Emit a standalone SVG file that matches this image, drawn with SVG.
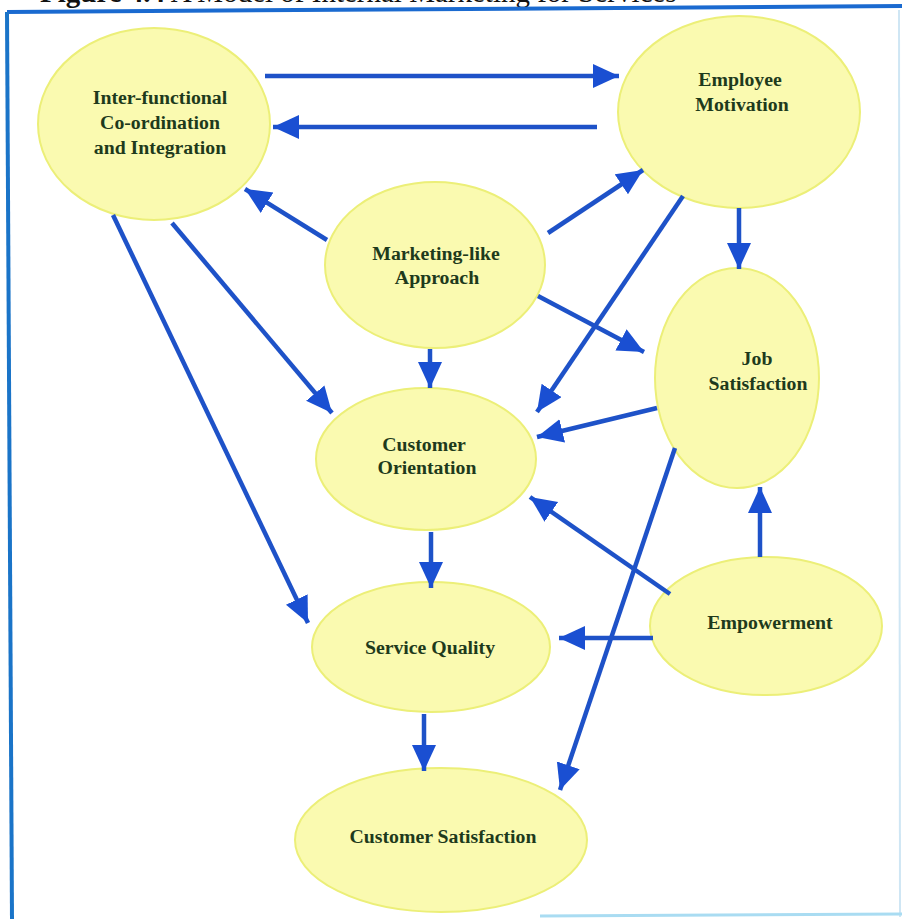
<svg xmlns="http://www.w3.org/2000/svg" width="902" height="919" viewBox="0 0 902 919">
<defs>
<marker id="ah" markerUnits="userSpaceOnUse" markerWidth="28" markerHeight="26" refX="26" refY="12" orient="auto">
<path d="M0,0 L26,12 L0,24 Z" fill="#1a4fd2"/>
</marker>
<style>
.node ellipse{fill:#fafab0;stroke:#ecef78;stroke-width:2}
.node text{font-family:"Liberation Serif","Times New Roman",serif;font-weight:bold;font-size:19.8px;fill:#1e3a1c;text-anchor:middle}
#connectors line{stroke:#1e52c8;stroke-width:4.5;marker-end:url(#ah)}
.title{font-family:"Liberation Serif","Times New Roman",serif;font-size:29px;fill:#111}
</style>
</defs>
<rect width="902" height="919" fill="#ffffff"/>
<text class="title" x="40" y="2"><tspan font-weight="bold">Figure 4.4</tspan> A Model of Internal Marketing for Services</text>
<g id="frame" fill="none">
<path d="M7,12 L902,6" stroke="#1a6ad0" stroke-width="4"/>
<path d="M7,12 L12,919" stroke="#1a74c8" stroke-width="4"/>
<path d="M899,10 L900,917" stroke="#cfe6f4" stroke-width="2"/>
<path d="M540,916 L902,914" stroke="#a9dcf2" stroke-width="3"/>
</g>
<g id="inter-functional" class="node">
<ellipse cx="154" cy="124" rx="116" ry="96"/>
<text x="160" y="104">Inter-functional</text>
<text x="160" y="129">Co-ordination</text>
<text x="160" y="154">and Integration</text>
</g>
<g id="employee-motivation" class="node">
<ellipse cx="739" cy="112" rx="121" ry="96"/>
<text x="740" y="86">Employee</text>
<text x="742" y="111">Motivation</text>
</g>
<g id="marketing-like" class="node">
<ellipse cx="435" cy="265" rx="110" ry="83"/>
<text x="436" y="260">Marketing-like</text>
<text x="437" y="284">Approach</text>
</g>
<g id="job-satisfaction" class="node">
<ellipse cx="737" cy="378" rx="82" ry="110"/>
<text x="757" y="365">Job</text>
<text x="758" y="390">Satisfaction</text>
</g>
<g id="customer-orientation" class="node">
<ellipse cx="426" cy="459" rx="110" ry="71"/>
<text x="424" y="451">Customer</text>
<text x="427" y="474">Orientation</text>
</g>
<g id="empowerment" class="node">
<ellipse cx="766" cy="626" rx="116" ry="69"/>
<text x="770" y="629">Empowerment</text>
</g>
<g id="service-quality" class="node">
<ellipse cx="431" cy="647" rx="119" ry="65"/>
<text x="430" y="654">Service Quality</text>
</g>
<g id="customer-satisfaction" class="node">
<ellipse cx="441" cy="840" rx="146" ry="72"/>
<text x="443" y="843">Customer Satisfaction</text>
</g>
<g id="connectors">
<line x1="265" y1="76" x2="619" y2="76"/>
<line x1="597" y1="127" x2="273" y2="127"/>
<line x1="327" y1="240" x2="245" y2="189"/>
<line x1="548" y1="233" x2="643" y2="170"/>
<line x1="683" y1="196" x2="537" y2="412"/>
<line x1="739" y1="208" x2="739" y2="269"/>
<line x1="538" y1="296" x2="644" y2="352"/>
<line x1="430" y1="349" x2="430" y2="388"/>
<line x1="172" y1="223" x2="332" y2="413"/>
<line x1="113" y1="215" x2="308" y2="623"/>
<line x1="657" y1="408" x2="537" y2="437"/>
<line x1="675" y1="448" x2="560" y2="790"/>
<line x1="760" y1="557" x2="760" y2="487"/>
<line x1="670" y1="594" x2="530" y2="497"/>
<line x1="653" y1="638" x2="559" y2="638"/>
<line x1="431" y1="532" x2="431" y2="588"/>
<line x1="424" y1="714" x2="424" y2="771"/>
</g>
</svg>
